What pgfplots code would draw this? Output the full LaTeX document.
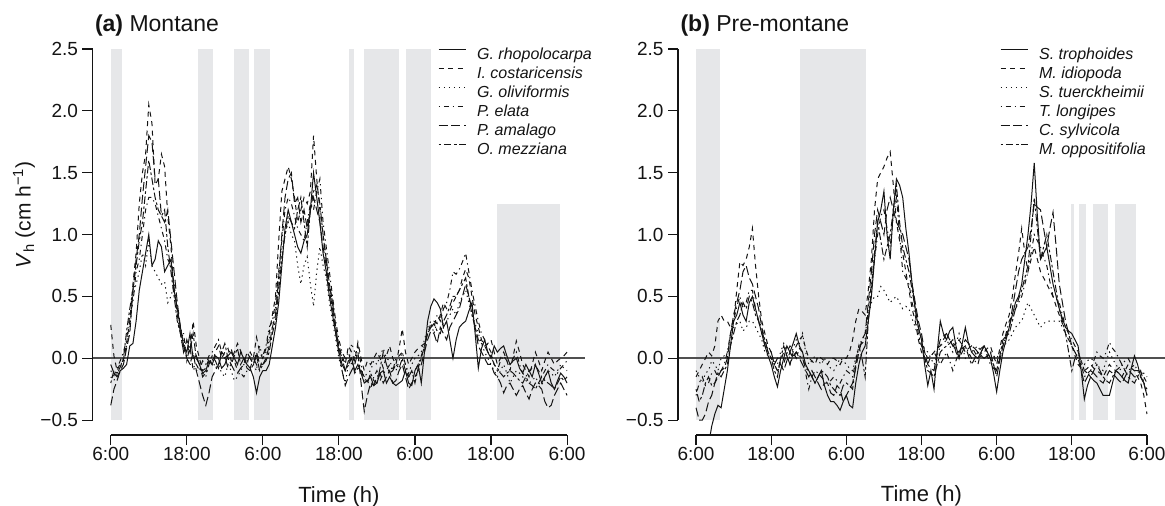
\documentclass[border=0pt]{standalone}
\usepackage{pgfplots}
\pgfplotsset{compat=1.18}
\usepackage{pgfplotstable}
\usepackage{fontspec}
\setmainfont{Liberation Sans}
\definecolor{shade}{HTML}{E6E7E9}
\definecolor{zline}{HTML}{505050}
\definecolor{ink}{HTML}{141414}

\pgfplotstableread{
t a1 a2 a3 a4 a5 a6
0 -0.05 0.27 -0.15 -0.1 -0.38 -0.2
0.5 -0.12 0.02 -0.18 -0.14 -0.25 -0.1
1 -0.15 -0.1 -0.12 -0.08 -0.18 -0.12
1.5 -0.1 -0.04 -0.08 -0.02 -0.1 -0.07
2 -0.08 -0.02 0.0 0.05 -0.05 0.0
2.5 -0.05 0.12 0.1 0.15 0.08 0.22
3 0.1 0.3 0.25 0.35 0.2 0.4
3.5 0.12 0.6 0.5 0.45 0.55 0.55
4 0.3 0.85 0.6 0.7 0.8 0.75
4.5 0.55 1.25 0.7 0.8 1.0 0.95
5 0.7 1.5 0.85 1.0 1.3 1.1
5.5 0.85 1.65 0.75 1.2 1.55 1.35
6 1.0 2.05 0.95 1.3 1.8 1.6
6.5 0.75 1.9 0.75 1.3 1.75 1.45
7 0.8 1.4 0.7 1.25 1.45 1.3
7.5 0.95 1.45 0.65 1.15 1.45 1.2
8 0.9 1.65 0.6 1.05 1.15 1.15
8.5 0.7 1.55 0.62 0.95 1.1 1.2
9 0.75 1.15 0.45 0.8 1.2 0.9
9.5 0.8 0.9 0.5 0.75 0.95 0.7
10 0.55 0.55 0.6 0.55 0.7 0.5
10.5 0.4 0.35 0.4 0.4 0.45 0.3
11 0.25 0.2 0.25 0.2 0.25 0.2
11.5 0.1 0.05 0.15 0.2 0.1 0.05
12 0.05 0.1 0.0 -0.02 0.0 0.15
12.5 0.2 0.05 -0.05 0.1 -0.05 0.05
13 0.0 0.3 -0.05 -0.1 0.05 0.2
13.5 0.02 0.1 -0.1 -0.05 -0.1 0.0
14 -0.05 0.0 -0.08 -0.1 -0.2 -0.05
14.5 -0.12 -0.1 -0.12 -0.02 -0.3 -0.15
15 -0.1 -0.08 -0.15 -0.05 -0.38 -0.12
15.5 -0.02 0.0 -0.05 0.02 -0.28 -0.05
16 -0.05 -0.05 0.0 0.05 -0.15 0.02
16.5 0.02 0.05 -0.08 0.1 -0.1 -0.02
17 0.0 0.1 -0.05 0.15 -0.05 -0.08
17.5 -0.08 0.0 -0.12 0.05 0.05 0.05
18 -0.05 0.05 -0.15 0.0 0.02 0.12
18.5 0.02 0.08 -0.05 0.03 -0.08 0.0
19 0.05 -0.02 -0.1 0.08 -0.05 -0.05
19.5 0.0 0.05 -0.18 -0.02 -0.1 0.02
20 -0.05 0.12 -0.15 -0.1 -0.12 0.08
20.5 0.05 0.06 -0.1 -0.12 -0.08 -0.05
21 0.0 0.0 -0.05 -0.15 -0.05 0.0
21.5 -0.05 -0.05 -0.02 -0.1 0.05 -0.08
22 -0.08 0.05 0.02 -0.08 0.0 -0.1
22.5 -0.15 0.0 -0.05 0.0 -0.05 -0.05
23 -0.28 0.17 -0.1 -0.05 0.05 0.02
23.5 -0.15 0.05 0.1 -0.1 -0.05 -0.1
24 -0.1 0.0 0.0 0.02 -0.05 -0.05
24.5 -0.1 0.08 0.05 0.1 0.0 -0.02
25 -0.05 0.2 0.15 0.25 0.1 0.05
25.5 0.1 0.35 0.25 0.3 0.25 0.2
26 0.25 0.5 0.4 0.45 0.35 0.3
26.5 0.45 0.95 0.6 0.7 0.65 0.55
27 0.75 1.35 0.85 0.95 1.0 0.8
27.5 1.05 1.45 1.0 1.2 1.3 1.0
28 1.2 1.55 1.1 1.3 1.45 1.15
28.5 1.1 1.45 1.0 1.25 1.5 1.1
29 1.0 1.3 0.95 1.15 1.25 1.05
29.5 0.9 1.1 0.75 1.05 1.3 1.2
30 0.85 1.2 0.6 1.0 1.1 1.3
30.5 0.95 1.3 0.75 0.95 1.2 1.1
31 1.0 1.25 0.82 1.1 1.05 0.9
31.5 1.2 1.35 0.6 1.25 1.2 1.2
32 1.5 1.8 0.42 1.2 1.3 1.35
32.5 1.3 1.45 0.7 1.35 1.2 1.4
33 1.1 1.2 0.9 1.45 1.1 1.25
33.5 0.85 1.0 0.75 1.1 0.9 1.0
34 0.7 0.8 0.65 0.9 0.75 0.8
34.5 0.5 0.6 0.45 0.7 0.55 0.6
35 0.35 0.45 0.3 0.5 0.4 0.45
35.5 0.2 0.25 0.15 0.3 0.2 0.25
36 0.05 0.1 0.0 0.15 0.05 0.08
36.5 -0.05 0.02 -0.1 0.05 -0.1 0.0
37 -0.1 -0.05 -0.2 0.0 -0.22 -0.1
37.5 -0.02 0.1 -0.05 0.05 -0.15 -0.05
38 0.0 0.05 0.12 -0.05 -0.1 0.0
38.5 -0.1 -0.02 0.05 0.02 -0.05 -0.12
39 -0.05 0.13 0.0 0.1 0.05 -0.08
39.5 -0.12 0.0 -0.1 -0.05 -0.2 -0.1
40 -0.2 -0.1 -0.15 -0.2 -0.43 -0.15
40.5 -0.18 -0.02 -0.12 -0.18 -0.3 -0.2
41 -0.15 -0.05 -0.1 -0.25 -0.2 -0.12
41.5 -0.22 0.0 -0.02 -0.15 -0.22 -0.18
42 -0.2 0.05 -0.05 -0.1 -0.15 -0.2
42.5 -0.12 0.0 0.02 -0.18 -0.12 -0.08
43 -0.1 -0.08 0.08 -0.12 -0.2 0.05
43.5 -0.2 0.02 0.0 -0.1 -0.15 -0.05
44 -0.15 0.1 -0.02 -0.05 -0.1 -0.12
44.5 -0.2 0.0 -0.08 -0.1 -0.2 -0.1
45 -0.22 -0.05 -0.1 0.0 -0.18 -0.05
45.5 -0.2 0.08 -0.02 0.02 -0.1 -0.08
46 -0.18 0.24 0.05 0.05 -0.05 0.0
46.5 -0.1 0.05 -0.05 -0.05 -0.15 -0.1
47 -0.2 -0.05 -0.12 -0.15 -0.25 -0.15
47.5 -0.22 0.0 -0.05 -0.12 -0.2 -0.1
48 -0.1 0.05 0.0 -0.1 -0.15 -0.2
48.5 -0.05 0.08 0.02 -0.05 -0.1 -0.08
49 -0.2 0.1 0.05 0.02 -0.05 0.0
49.5 0.05 0.12 0.15 0.1 0.05 0.1
50 0.3 0.2 0.25 0.2 0.15 0.2
50.5 0.42 0.25 0.3 0.28 0.22 0.25
51 0.48 0.3 0.2 0.25 0.2 0.28
51.5 0.45 0.28 0.3 0.35 0.12 0.22
52 0.4 0.35 0.35 0.3 0.25 0.2
52.5 0.25 0.45 0.25 0.4 0.2 0.3
53 0.3 0.4 0.3 0.45 0.15 0.35
53.5 0.15 0.38 0.35 0.55 0.25 0.42
54 0.0 0.45 0.4 0.7 0.3 0.5
54.5 0.15 0.5 0.35 0.68 0.35 0.5
55 0.25 0.55 0.45 0.72 0.4 0.55
55.5 0.28 0.65 0.5 0.78 0.5 0.6
56 0.3 0.72 0.55 0.85 0.6 0.65
56.5 0.38 0.65 0.45 0.7 0.5 0.5
57 0.45 0.5 0.35 0.55 0.4 0.35
57.5 0.2 0.35 0.28 0.42 0.25 0.25
58 -0.08 0.25 0.2 0.3 0.1 0.15
58.5 0.08 0.15 0.12 0.2 0.05 0.12
59 0.15 0.1 0.05 0.15 0.0 0.1
59.5 0.05 0.12 0.0 0.1 -0.05 0.05
60 0.0 0.15 -0.05 0.05 -0.05 0.02
60.5 0.1 0.05 -0.1 -0.05 -0.12 -0.05
61 0.05 -0.05 -0.15 -0.1 -0.15 -0.08
61.5 0.08 0.0 -0.1 -0.02 -0.2 -0.12
62 0.1 0.05 -0.05 0.02 -0.28 -0.15
62.5 0.02 -0.02 -0.12 -0.02 -0.22 -0.12
63 -0.05 -0.1 -0.2 -0.05 -0.2 -0.1
63.5 -0.02 0.02 -0.15 0.0 -0.25 -0.12
64 0.0 0.14 -0.1 0.05 -0.3 -0.15
64.5 -0.08 0.05 -0.12 -0.05 -0.25 -0.18
65 -0.12 -0.05 -0.15 -0.12 -0.22 -0.2
65.5 -0.05 -0.1 -0.18 -0.15 -0.28 -0.15
66 -0.1 -0.15 -0.2 -0.1 -0.33 -0.2
66.5 -0.15 -0.05 -0.18 -0.08 -0.25 -0.22
67 -0.05 0.05 -0.15 -0.05 -0.2 -0.25
67.5 -0.12 -0.02 -0.2 -0.1 -0.22 -0.2
68 -0.2 -0.1 -0.22 -0.15 -0.25 -0.15
68.5 -0.15 -0.02 -0.15 -0.1 -0.35 -0.18
69 -0.1 0.05 -0.1 -0.05 -0.4 -0.2
69.5 -0.2 0.0 -0.12 -0.08 -0.38 -0.22
70 -0.25 -0.05 -0.15 -0.1 -0.3 -0.25
70.5 -0.18 -0.02 -0.1 -0.12 -0.25 -0.2
71 -0.12 0.0 -0.05 -0.08 -0.2 -0.15
71.5 -0.15 0.02 -0.08 -0.05 -0.25 -0.18
72 -0.2 0.05 -0.1 -0.02 -0.3 -0.15
}\tabA

\pgfplotstableread{
t b1 b2 b3 b4 b5 b6
0 -0.95 -0.15 -0.1 -0.3 -0.4 -0.25
0.5 -0.9 -0.1 -0.15 -0.2 -0.5 -0.35
1 -0.85 -0.05 -0.2 -0.15 -0.5 -0.3
1.5 -0.8 0.0 -0.12 -0.22 -0.45 -0.2
2 -0.7 0.05 -0.1 -0.2 -0.35 -0.15
2.5 -0.55 0.02 -0.02 -0.12 -0.3 -0.22
3 -0.45 0.1 -0.05 -0.1 -0.2 -0.2
3.5 -0.38 0.3 -0.1 -0.15 -0.15 -0.12
4 -0.4 0.35 0.0 -0.1 -0.1 -0.15
4.5 -0.25 0.3 0.02 -0.05 -0.08 -0.1
5 -0.1 0.3 0.05 0.05 0.0 -0.05
5.5 0.1 0.25 0.15 0.2 0.2 0.1
6 0.3 0.3 0.25 0.3 0.35 0.2
6.5 0.35 0.55 0.28 0.42 0.45 0.3
7 0.45 0.78 0.3 0.5 0.55 0.35
7.5 0.35 0.75 0.22 0.4 0.7 0.45
8 0.3 0.8 0.25 0.45 0.75 0.4
8.5 0.45 0.9 0.3 0.55 0.65 0.5
9 0.5 1.05 0.3 0.55 0.6 0.45
9.5 0.4 0.75 0.25 0.4 0.5 0.35
10 0.3 0.5 0.2 0.3 0.4 0.3
10.5 0.2 0.3 0.15 0.25 0.25 0.2
11 0.1 0.2 0.05 0.15 0.1 0.15
11.5 0.02 0.1 0.02 0.05 0.08 0.05
12 -0.05 0.05 0.0 0.0 0.05 0.0
12.5 -0.15 -0.05 -0.02 -0.05 -0.05 -0.1
13 -0.23 -0.1 -0.05 -0.1 0.0 -0.15
13.5 -0.1 -0.02 0.05 -0.08 -0.05 0.0
14 0.0 0.05 0.12 -0.05 -0.1 0.1
14.5 0.1 0.02 0.05 0.05 -0.02 0.02
15 0.05 -0.05 0.0 0.1 0.05 -0.05
15.5 0.12 0.05 0.08 0.05 0.0 0.02
16 0.2 0.1 0.15 0.0 0.05 0.05
16.5 0.1 0.15 0.12 0.08 0.0 0.02
17 0.05 0.18 0.2 0.05 -0.05 0.0
17.5 -0.05 0.08 0.05 -0.12 -0.1 -0.08
18 -0.1 0.0 -0.05 -0.25 -0.15 -0.1
18.5 -0.15 -0.02 -0.02 -0.15 -0.1 -0.15
19 -0.2 -0.05 0.02 -0.1 -0.15 -0.2
19.5 -0.15 0.02 -0.02 -0.12 -0.2 -0.15
20 -0.1 0.0 -0.05 -0.15 -0.25 -0.1
20.5 -0.22 -0.02 0.0 -0.18 -0.2 -0.12
21 -0.3 -0.05 -0.05 -0.2 -0.2 -0.15
21.5 -0.35 0.0 -0.08 -0.18 -0.28 -0.22
22 -0.35 0.0 -0.1 -0.15 -0.3 -0.25
22.5 -0.38 -0.02 -0.05 -0.18 -0.22 -0.28
23 -0.42 -0.05 0.0 -0.2 -0.25 -0.3
23.5 -0.35 0.0 -0.02 -0.15 -0.35 -0.22
24 -0.3 0.0 -0.05 -0.1 -0.3 -0.2
24.5 -0.38 0.05 -0.08 -0.12 -0.25 -0.22
25 -0.4 0.15 -0.1 -0.15 -0.2 -0.25
25.5 -0.2 0.3 0.0 -0.02 -0.08 -0.05
26 -0.05 0.4 0.1 0.1 0.05 0.1
26.5 0.05 0.38 0.15 0.12 0.15 0.0
27 0.1 0.35 0.2 0.15 0.2 -0.15
27.5 0.3 0.55 0.35 0.4 0.45 0.3
28 0.5 0.8 0.45 0.6 0.7 0.55
28.5 0.8 1.2 0.5 0.8 1.0 0.85
29 1.1 1.45 0.5 1.0 1.2 1.1
29.5 1.2 1.5 0.58 1.15 1.1 0.95
30 1.35 1.55 0.55 1.2 1.0 0.8
30.5 1.0 1.62 0.5 1.05 1.2 0.9
31 0.8 1.67 0.45 0.9 1.3 1.0
31.5 1.2 1.4 0.48 1.15 1.2 1.2
32 1.45 1.1 0.5 1.3 1.1 1.4
32.5 1.4 0.95 0.45 1.0 1.05 1.1
33 1.3 0.85 0.4 0.7 1.0 0.9
33.5 1.05 0.7 0.42 0.65 0.9 0.8
34 0.85 0.55 0.4 0.6 0.8 0.7
34.5 0.6 0.4 0.32 0.45 0.6 0.55
35 0.4 0.3 0.25 0.35 0.45 0.4
35.5 0.25 0.15 0.18 0.2 0.3 0.25
36 0.15 0.05 0.1 0.1 0.2 0.15
36.5 -0.05 0.0 0.08 0.05 0.05 0.0
37 -0.22 -0.05 0.05 0.0 -0.05 -0.1
37.5 -0.1 0.02 0.0 0.02 -0.08 -0.12
38 -0.25 0.05 -0.05 0.05 -0.1 -0.15
38.5 0.05 0.08 0.02 0.0 0.05 -0.05
39 0.3 0.1 0.1 -0.05 0.15 0.05
39.5 0.2 0.15 0.12 0.0 0.18 0.08
40 0.15 0.2 0.15 0.05 0.2 0.1
40.5 0.22 0.15 0.1 -0.02 0.15 0.12
41 0.25 0.1 0.05 -0.1 0.1 0.15
41.5 0.1 0.12 0.12 -0.02 0.08 0.05
42 0.0 0.15 0.2 0.05 0.05 0.0
42.5 0.12 0.1 0.1 0.08 0.1 0.05
43 0.25 0.05 0.0 0.1 0.15 0.1
43.5 0.12 0.08 0.02 0.05 0.12 0.02
44 0.05 0.1 0.05 0.0 0.1 -0.05
44.5 0.02 0.05 0.08 -0.02 0.08 0.0
45 0.0 0.0 0.1 -0.05 0.05 0.05
45.5 0.05 0.02 0.05 0.05 0.02 0.08
46 0.1 0.05 0.0 0.1 0.0 0.1
46.5 0.05 0.08 0.02 0.02 0.02 0.05
47 0.0 0.1 0.05 -0.05 0.05 0.0
47.5 -0.12 0.02 0.02 -0.08 -0.05 -0.05
48 -0.27 -0.05 0.0 -0.1 -0.15 -0.1
48.5 -0.1 0.08 0.05 0.0 -0.02 0.02
49 0.05 0.2 0.1 0.1 0.1 0.15
49.5 0.15 0.28 0.12 0.2 0.18 0.18
50 0.25 0.35 0.15 0.3 0.25 0.2
50.5 0.35 0.5 0.2 0.35 0.4 0.3
51 0.45 0.68 0.25 0.4 0.55 0.4
51.5 0.5 0.85 0.28 0.45 0.7 0.48
52 0.6 1.05 0.3 0.5 0.8 0.55
52.5 0.8 0.85 0.38 0.6 0.85 0.65
53 1.0 0.7 0.45 0.7 0.9 0.75
53.5 1.25 0.8 0.4 0.85 1.05 1.0
54 1.58 0.9 0.35 1.0 1.25 1.3
54.5 1.15 0.8 0.3 0.95 1.22 1.05
55 0.8 0.7 0.25 0.9 1.2 0.8
55.5 0.85 0.65 0.28 0.82 1.05 0.9
56 0.9 0.6 0.3 0.75 0.9 1.0
56.5 0.75 0.55 0.3 0.62 1.05 0.85
57 0.6 0.5 0.3 0.5 1.18 0.7
57.5 0.5 0.42 0.3 0.48 0.9 0.55
58 0.4 0.35 0.3 0.45 0.6 0.4
58.5 0.32 0.28 0.25 0.35 0.45 0.3
59 0.25 0.2 0.2 0.25 0.3 0.2
59.5 0.22 0.15 0.15 0.2 0.2 0.05
60 0.2 0.1 0.1 0.15 0.1 -0.1
60.5 0.15 0.02 0.05 0.1 0.05 0.0
61 0.1 -0.05 0.0 0.05 0.0 0.05
61.5 -0.1 -0.08 -0.02 -0.05 -0.1 -0.02
62 -0.33 -0.1 -0.05 -0.15 -0.2 -0.1
62.5 -0.22 -0.08 -0.02 -0.12 -0.15 -0.12
63 -0.15 -0.05 0.0 -0.1 -0.1 -0.15
63.5 -0.18 -0.08 -0.02 -0.02 -0.12 -0.1
64 -0.2 -0.1 -0.05 0.05 -0.15 -0.05
64.5 -0.25 -0.12 -0.08 0.02 -0.18 -0.1
65 -0.3 -0.15 -0.1 0.0 -0.2 -0.15
65.5 -0.3 -0.1 -0.02 0.05 -0.15 -0.18
66 -0.3 -0.05 0.05 0.13 -0.1 -0.2
66.5 -0.2 -0.08 0.0 0.08 -0.12 -0.15
67 -0.1 -0.1 -0.05 0.05 -0.15 -0.1
67.5 -0.12 -0.12 -0.08 0.0 -0.18 -0.08
68 -0.15 -0.15 -0.1 -0.05 -0.2 -0.05
68.5 -0.18 -0.1 -0.1 -0.02 -0.15 -0.1
69 -0.2 -0.05 -0.1 0.0 -0.1 -0.15
69.5 -0.08 -0.08 -0.08 -0.05 -0.12 -0.18
70 0.02 -0.1 -0.05 -0.1 -0.15 -0.2
70.5 -0.05 -0.15 -0.1 -0.1 -0.15 -0.15
71 -0.15 -0.2 -0.15 -0.1 -0.15 -0.1
71.5 -0.2 -0.3 -0.12 -0.15 -0.2 -0.2
72 -0.3 -0.45 -0.15 -0.2 -0.25 -0.3
}\tabB

\tikzset{
  ls1/.style={ink, line width=1pt, solid},
  ls2/.style={ink, line width=1pt, dash pattern=on 5pt off 4.5pt},
  ls3/.style={ink, line width=1pt, dash pattern=on 1.3pt off 3.8pt},
  ls4/.style={ink, line width=1pt, dash pattern=on 1.3pt off 3.8pt on 5pt off 3.8pt},
  ls5/.style={ink, line width=1pt, dash pattern=on 9pt off 3.8pt},
  ls6/.style={ink, line width=1pt, dash pattern=on 2.6pt off 2.6pt on 7.5pt off 2.6pt},
}

\pgfplotsset{
  panel/.style={
    scale only axis,
    height=400.8pt,
    xmin=-2.88, xmax=74.88, ymin=-0.62, ymax=2.62,
    axis x line*=bottom, axis y line*=left,
    axis line style={draw=none},
    tick align=outside,
    major tick length=10pt,
    every tick/.style={ink, line width=1.1pt},
    xtick={0,12,24,36,48,60,72},
    xticklabels={6:00,18:00,6:00,18:00,6:00,18:00,6:00},
    ytick={-0.5,0,0.5,1,1.5,2,2.5},
    yticklabels={−0.5,0.0,0.5,1.0,1.5,2.0,2.5},
    tick label style={font=\fontsize{19}{22}\selectfont, text=ink},
    xticklabel style={anchor=base, yshift=-15pt},
    yticklabel style={anchor=east, xshift=-1pt},
    xlabel style={at={(axis description cs:0.5,0)}, anchor=base, yshift=-67pt, font=\fontsize{22}{24}\selectfont, text=ink},
    ylabel style={at={(axis description cs:-0.139,0.549)}, anchor=center, font=\fontsize{21}{24}\selectfont, text=ink},
    clip=true,
    legend cell align=left,
    legend image code/.code={\draw[##1] (0pt,5.5pt) -- (27pt,5.5pt);},
    legend style={draw=none, fill=none, anchor=north west, inner sep=0pt,
      font=\fontsize{16}{18}\selectfont\itshape,
      nodes={inner sep=0pt, text height=11.5pt, text depth=3.5pt, text=ink},
      row sep=4pt,
      /tikz/every odd column/.append style={column sep=11pt}},
  },
}

\begin{document}
\begin{tikzpicture}[x=1pt,y=1pt]
\useasboundingbox (0,0) rectangle (1165,506);

% ---------- panel (a) ----------
\begin{axis}[panel, name=A, at={(92.5pt,71pt)}, anchor=south west, width=492.8pt,
  xlabel={Time (h)},
  ylabel={\textit{V}\textsubscript{h} (cm h\textsuperscript{−1})},
  legend style={at={(axis description cs:0.701,0.967)}}]
\addplot[fill=shade, draw=none, forget plot] coordinates {(0,-0.5) (1.85,-0.5) (1.85,2.5) (0,2.5)} -- cycle;
\addplot[fill=shade, draw=none, forget plot] coordinates {(13.7,-0.5) (16.1,-0.5) (16.1,2.5) (13.7,2.5)} -- cycle;
\addplot[fill=shade, draw=none, forget plot] coordinates {(19.45,-0.5) (21.8,-0.5) (21.8,2.5) (19.45,2.5)} -- cycle;
\addplot[fill=shade, draw=none, forget plot] coordinates {(22.65,-0.5) (25.1,-0.5) (25.1,2.5) (22.65,2.5)} -- cycle;
\addplot[fill=shade, draw=none, forget plot] coordinates {(37.65,-0.5) (38.35,-0.5) (38.35,2.5) (37.65,2.5)} -- cycle;
\addplot[fill=shade, draw=none, forget plot] coordinates {(39.9,-0.5) (45.55,-0.5) (45.55,2.5) (39.9,2.5)} -- cycle;
\addplot[fill=shade, draw=none, forget plot] coordinates {(46.6,-0.5) (50.6,-0.5) (50.6,2.5) (46.6,2.5)} -- cycle;
\addplot[fill=shade, draw=none, forget plot] coordinates {(60.95,-0.5) (70.85,-0.5) (70.85,1.25) (60.95,1.25)} -- cycle;
\addplot[zline, line width=2pt, forget plot] coordinates {(-2.88,0) (74.88,0)};
\addplot[ls1] table[x=t,y=a1] {\tabA};
\addplot[ls2] table[x=t,y=a2] {\tabA};
\addplot[ls3] table[x=t,y=a3] {\tabA};
\addplot[ls4] table[x=t,y=a4] {\tabA};
\addplot[ls5] table[x=t,y=a5] {\tabA};
\addplot[ls6] table[x=t,y=a6] {\tabA};
\legend{G. rhopolocarpa, I. costaricensis, G. oliviformis, P. elata, P. amalago, O. mezziana}
\end{axis}
\draw[ink, line width=1.1pt] (A.south west) ++(18.24,0) -- ++(456.3,0);
\draw[ink, line width=1.1pt] (A.south west) ++(0,14.84) -- ++(0,371.1);
\node[anchor=base west, text=ink, font=\fontsize{23}{27}\selectfont] at (91.5,474) {\textbf{(a)} Montane};

% ---------- panel (b) ----------
\begin{axis}[panel, name=B, at={(678pt,71pt)}, anchor=south west, width=487pt,
  xlabel={Time (h)},
  legend style={at={(axis description cs:0.661,0.967)}}]
\addplot[fill=shade, draw=none, forget plot] coordinates {(-0.05,-0.5) (3.8,-0.5) (3.8,2.5) (-0.05,2.5)} -- cycle;
\addplot[fill=shade, draw=none, forget plot] coordinates {(16.65,-0.5) (27.1,-0.5) (27.1,2.5) (16.65,2.5)} -- cycle;
\addplot[fill=shade, draw=none, forget plot] coordinates {(59.85,-0.5) (60.4,-0.5) (60.4,1.25) (59.85,1.25)} -- cycle;
\addplot[fill=shade, draw=none, forget plot] coordinates {(61.15,-0.5) (62.25,-0.5) (62.25,1.25) (61.15,1.25)} -- cycle;
\addplot[fill=shade, draw=none, forget plot] coordinates {(63.4,-0.5) (65.75,-0.5) (65.75,1.25) (63.4,1.25)} -- cycle;
\addplot[fill=shade, draw=none, forget plot] coordinates {(66.85,-0.5) (70.3,-0.5) (70.3,1.25) (66.85,1.25)} -- cycle;
\addplot[zline, line width=2pt, forget plot] coordinates {(-2.88,0) (74.88,0)};
\addplot[ls1] table[x=t,y=b1] {\tabB};
\addplot[ls2] table[x=t,y=b2] {\tabB};
\addplot[ls3] table[x=t,y=b3] {\tabB};
\addplot[ls4] table[x=t,y=b4] {\tabB};
\addplot[ls5] table[x=t,y=b5] {\tabB};
\addplot[ls6] table[x=t,y=b6] {\tabB};
\legend{S. trophoides, M. idiopoda, S. tuerckheimii, T. longipes, C. sylvicola, M. oppositifolia}
\end{axis}
\draw[ink, line width=1.1pt] (B.south west) ++(18.04,0) -- ++(451,0);
\draw[ink, line width=1.1pt] (B.south west) ++(0,14.84) -- ++(0,371.1);
\node[anchor=base west, text=ink, font=\fontsize{23}{27}\selectfont] at (677,474) {\textbf{(b)} Pre-montane};
\end{tikzpicture}
\end{document}
